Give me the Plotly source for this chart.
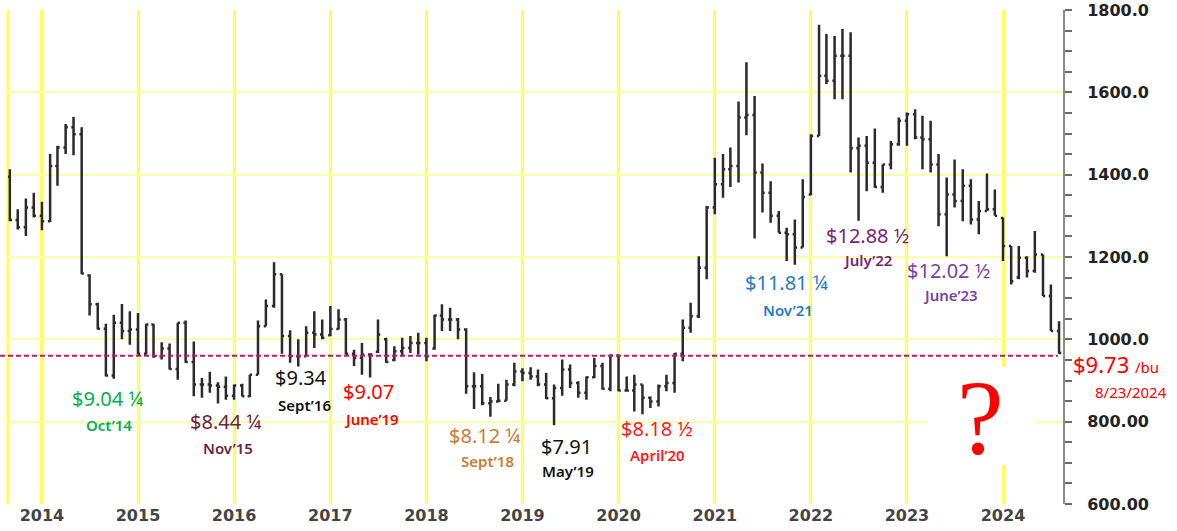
import pandas as pd
import plotly.graph_objects as go

# ---------------- data (monthly bars, Sep 2013 .. Aug 2024, cents/bu) ----------------
start_month = "2013-09-01"
n_months = 132
months = pd.date_range(start_month, periods=n_months, freq="MS")

opens = [
    1395, 1290, 1272, 1320,
    1300, 1287, 1421, 1466, 1515, 1498, 1155, 1085, 1026, 912, 1040, 1020,
    1024, 965, 1036, 959, 978, 928, 1040, 945, 890, 890, 888, 885,
    863, 888, 862, 914, 1032, 1081, 1158, 1008, 959, 959, 1016, 1012,
    1010, 1025, 1048, 965, 955, 963, 970, 1000, 950, 971, 979, 991,
    991, 978, 1058, 1048, 1048, 1024, 886, 886, 845, 849, 851, 890,
    922, 918, 910, 890, 857, 882, 927, 894, 870, 908, 935, 880,
    961, 876, 876, 890, 858, 849, 886, 894, 965, 1028, 1056, 1174,
    1320, 1377, 1413, 1421, 1539, 1545, 1405, 1356, 1300, 1259, 1255, 1223,
    1352, 1494, 1640, 1628, 1689, 1689, 1464, 1470, 1429, 1370, 1425, 1474,
    1531, 1547, 1490, 1486, 1425, 1304, 1352, 1336, 1373, 1291, 1312, 1316,
    1295, 1227, 1150, 1198, 1166, 1206, 1105, 1020,
]
highs = [
    1413, 1316, 1342, 1356,
    1334, 1450, 1470, 1523, 1540, 1515, 1158, 1089, 1038, 1060, 1086, 1068,
    1064, 1038, 1038, 993, 990, 1040, 1046, 995, 906, 921, 896, 910,
    890, 892, 914, 1046, 1097, 1187, 1158, 1022, 1000, 1032, 1068, 1048,
    1081, 1073, 1052, 975, 991, 963, 1048, 1004, 983, 1004, 1008, 1016,
    1004, 1060, 1085, 1077, 1052, 1027, 920, 916, 860, 892, 902, 943,
    930, 932, 927, 918, 890, 951, 939, 898, 910, 955, 943, 963,
    963, 910, 914, 890, 861, 890, 914, 967, 1048, 1089, 1202, 1324,
    1441, 1450, 1466, 1578, 1673, 1591, 1427, 1384, 1312, 1271, 1291, 1389,
    1498, 1764, 1742, 1737, 1754, 1746, 1490, 1494, 1512, 1425, 1482, 1539,
    1551, 1559, 1543, 1531, 1450, 1393, 1437, 1413, 1389, 1336, 1403, 1364,
    1296, 1227, 1227, 1202, 1263, 1206, 1133, 1044,
]
lows = [
    1287, 1267, 1251, 1296,
    1265, 1285, 1373, 1450, 1447, 1158, 1058, 1024, 910, 904, 1000, 987,
    963, 963, 955, 951, 927, 902, 943, 862, 858, 870, 844, 853,
    853, 861, 860, 914, 1032, 1077, 965, 943, 934, 959, 979, 1000,
    1008, 1024, 963, 935, 914, 907, 967, 943, 947, 959, 967, 963,
    947, 975, 1020, 1020, 1000, 868, 831, 840, 812, 847, 851, 886,
    898, 902, 886, 855, 791, 863, 882, 858, 853, 906, 878, 874,
    874, 874, 825, 818, 833, 837, 874, 870, 947, 1016, 1052, 1146,
    1304, 1344, 1370, 1381, 1496, 1245, 1308, 1283, 1259, 1190, 1181, 1223,
    1350, 1494, 1620, 1583, 1583, 1405, 1288, 1360, 1368, 1356, 1413, 1470,
    1470, 1486, 1413, 1405, 1275, 1202, 1320, 1287, 1279, 1255, 1312, 1300,
    1190, 1133, 1146, 1150, 1162, 1105, 1020, 965,
]
closes = [
    1290, 1272, 1320, 1300,
    1287, 1421, 1466, 1515, 1498, 1160, 1085, 1026, 912, 1040, 1020, 1024,
    965, 1036, 959, 978, 928, 1040, 945, 890, 890, 888, 885, 863,
    888, 862, 914, 1032, 1081, 1158, 1008, 959, 959, 1016, 1012, 1004,
    1025, 1048, 965, 955, 963, 963, 1012, 945, 971, 979, 991, 991,
    959, 1058, 1048, 1048, 1024, 886, 886, 845, 849, 851, 890, 922,
    918, 910, 890, 857, 882, 927, 894, 870, 908, 935, 880, 961,
    876, 876, 890, 858, 849, 886, 894, 965, 1028, 1056, 1174, 1320,
    1377, 1413, 1421, 1539, 1545, 1405, 1356, 1300, 1259, 1255, 1223, 1346,
    1494, 1640, 1628, 1689, 1689, 1464, 1470, 1429, 1370, 1425, 1474, 1531,
    1547, 1490, 1486, 1425, 1304, 1352, 1336, 1373, 1291, 1312, 1316, 1300,
    1227, 1141, 1198, 1166, 1206, 1105, 1020, 967,
]

ref_price = 960  # dashed reference line
y_tickvals = [600, 800, 1000, 1200, 1400, 1600, 1800]
y_ticktext = ["600.00", "800.00", "1000.0", "1200.0", "1400.0", "1600.0", "1800.0"]

# annotation texts / colours
labels = [
    ("$9.04 ¼", "Oct’14", "#00b050"),
    ("$8.44 ¼", "Nov’15", "#6d1f42"),
    ("$9.34", "Sept’16", "#111111"),
    ("$9.07", "June’19", "#ff0000"),
    ("$8.12 ¼", "Sept’18", "#cc7a30"),
    ("$7.91", "May’19", "#111111"),
    ("$8.18 ½", "April’20", "#ff1a1a"),
    ("$11.81 ¼", "Nov’21", "#1f7cc6"),
    ("$12.88 ½", "July’22", "#7a2379"),
    ("$12.02 ½", "June’23", "#7b3fa4"),
]

# ---------------- layout geometry (pixels) ----------------
W, H = 1177, 531
ML, MR, MT, MB = 8, 114, 10, 27
PW, PH = W - ML - MR, H - MT - MB
X_START, X_END = pd.Timestamp("2013-08-25"), pd.Timestamp("2024-08-16")
Y_MIN, Y_MAX = 600, 1800


def px(x):
    return (x - ML) / PW


def py(y):
    return (H - MB - y) / PH


def px_date(x):
    return X_START + (X_END - X_START) * px(x)


def py_val(y):
    return Y_MIN + (Y_MAX - Y_MIN) * py(y)


# (price x, price y, month x, month y) pixel centres
label_pos = [
    (107, 398, 109, 425),
    (225, 421, 228, 448),
    (301, 378, 304, 405),
    (368, 391, 371, 419),
    (484, 435, 487, 461),
    (566, 446, 568, 471),
    (657, 428, 657, 455),
    (786, 283, 788, 310),
    (867, 235, 867, 260),
    (948, 270, 950, 295),
]

fig = go.Figure()
fig.add_trace(go.Ohlc(
    x=months, open=opens, high=highs, low=lows, close=closes,
    increasing=dict(line=dict(color="#2b2b2b", width=2.5)),
    decreasing=dict(line=dict(color="#2b2b2b", width=2.5)),
    tickwidth=0.3, showlegend=False, hoverinfo="skip",
))

shapes = [
    # white patch behind the question mark (covers the grid there)
    dict(type="rect", xref="x", yref="y", x0=px_date(928), x1=px_date(1035),
         y0=py_val(465), y1=py_val(367), fillcolor="white", line=dict(width=0),
         layer="between"),
    # left edge yellow line
    dict(type="line", xref="paper", yref="paper", x0=0, x1=0, y0=0, y1=1,
         line=dict(color="#ffff55", width=3), layer="below"),
    # dashed reference line
    dict(type="line", xref="paper", yref="y", x0=px(0), x1=px(1058),
         y0=ref_price, y1=ref_price, line=dict(color="#c0186a", width=2, dash="5px,3px"),
         layer="above"),
]

ann = []
for (ptxt, mtxt, col), (x1, y1, x2, y2) in zip(labels, label_pos):
    ann.append(dict(text=ptxt, x=px(x1), y=py(y1), xref="paper", yref="paper",
                    showarrow=False, xanchor="center", yanchor="middle",
                    font=dict(family="Noto Sans", size=20, color=col)))
    ann.append(dict(text=mtxt, x=px(x2), y=py(y2), xref="paper", yref="paper",
                    showarrow=False, xanchor="center", yanchor="middle",
                    font=dict(family="Noto Sans", size=15, color=col, weight=600)))

ann.append(dict(text="$9.73 <span style='font-size:15px'>/bu</span>", x=px(1071), y=py(364),
                xref="paper", yref="paper", showarrow=False, xanchor="left", yanchor="middle",
                font=dict(family="Noto Sans", size=22, color="#ff0000")))
ann.append(dict(text="8/23/2024", x=px(1131), y=py(392), xref="paper", yref="paper",
                showarrow=False, xanchor="center", yanchor="middle",
                font=dict(family="Noto Sans", size=15, color="#ff0000")))
ann.append(dict(text="?", x=px(980), y=py(418), xref="paper", yref="paper",
                showarrow=False, xanchor="center", yanchor="middle",
                font=dict(family="Liberation Serif", size=105, color="#ff0000")))

fig.update_layout(
    width=W, height=H,
    margin=dict(l=ML, r=MR, t=MT, b=MB, pad=0, autoexpand=False),
    paper_bgcolor="white", plot_bgcolor="white",
    shapes=shapes, annotations=ann, showlegend=False,
    xaxis=dict(
        type="date", range=[X_START, X_END], automargin=False,
        rangeslider=dict(visible=False),
        tick0="2014-01-01", dtick="M12", tickformat="%Y",
        showgrid=True, gridcolor="#ffff55", gridwidth=3,
        zeroline=False, showline=False, ticks="",
        tickfont=dict(family="DejaVu Sans", size=16, color="#444444", weight="bold"),
    ),
    yaxis=dict(
        side="right", range=[Y_MIN, Y_MAX], automargin=False,
        tickvals=y_tickvals, ticktext=y_ticktext,
        showgrid=True, gridcolor="#ffffa6", gridwidth=2,
        zeroline=False, showline=True, linecolor="#8c8c8c", linewidth=2,
        ticks="outside", ticklen=7, tickwidth=2, tickcolor="#6a6a6a",
        minor=dict(dtick=50, ticks="outside", ticklen=7, tickwidth=2,
                   tickcolor="#6a6a6a", showgrid=False),
        ticklabelstandoff=12,
        tickfont=dict(family="DejaVu Sans", size=16, color="#222222", weight="bold"),
    ),
)

fig.write_html(
    "out.html",
    config={"displayModeBar": False},
    post_script="document.body.style.margin='0';document.body.style.overflow='hidden';",
)
